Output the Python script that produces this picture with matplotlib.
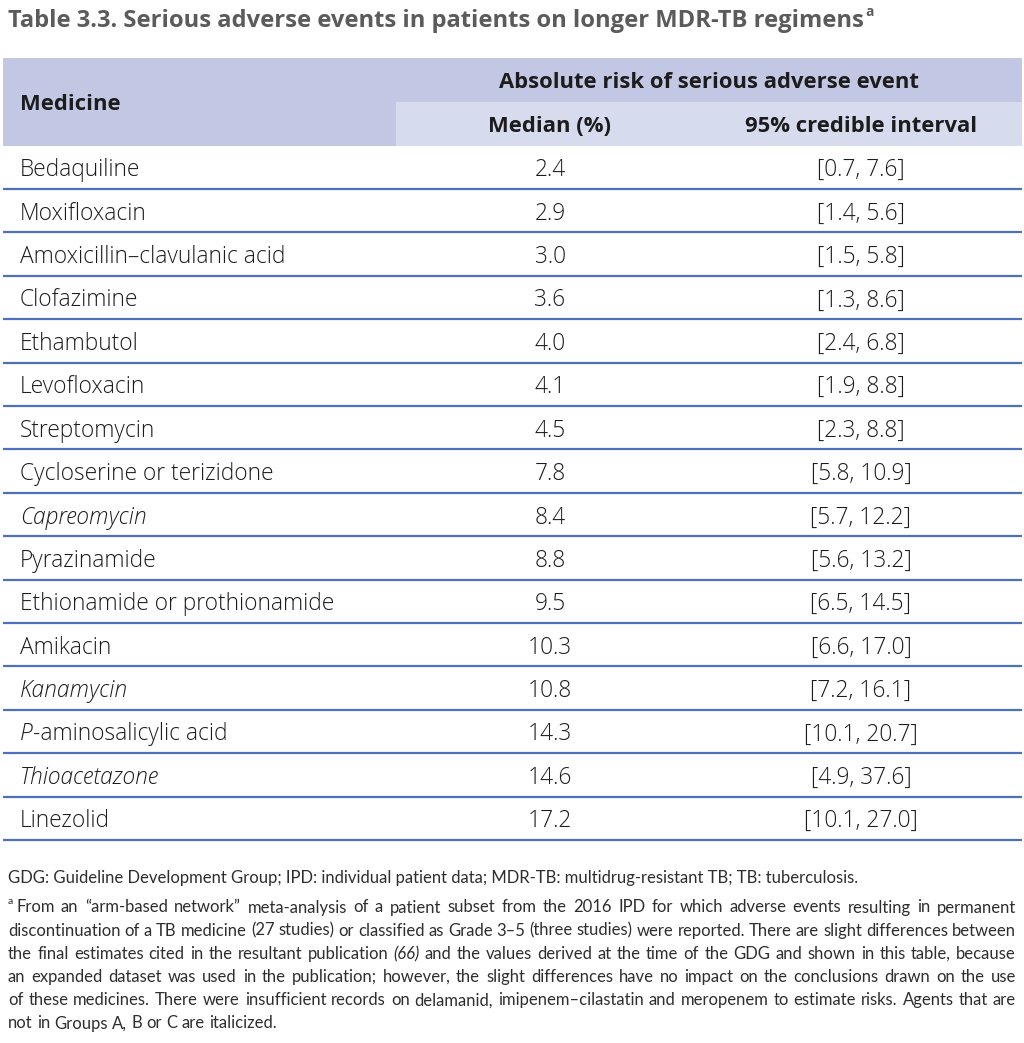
import matplotlib
matplotlib.use("Agg")
import matplotlib.pyplot as plt
from matplotlib.patches import Rectangle

# ----------------------------
# Data
# ----------------------------
medicines = [
    "Bedaquiline", "Moxifloxacin", "Amoxicillin\u2013clavulanic acid", "Clofazimine",
    "Ethambutol", "Levofloxacin", "Streptomycin", "Cycloserine or terizidone",
    "Capreomycin", "Pyrazinamide", "Ethionamide or prothionamide", "Amikacin",
    "Kanamycin", "P-aminosalicylic acid", "Thioacetazone", "Linezolid",
]
italic_names = ["Capreomycin", "Kanamycin", "Thioacetazone"]
medians = [2.4, 2.9, 3.0, 3.6, 4.0, 4.1, 4.5, 7.8, 8.4, 8.8, 9.5, 10.3, 10.8, 14.3, 14.6, 17.2]
ci_low = [0.7, 1.4, 1.5, 1.3, 2.4, 1.9, 2.3, 5.8, 5.7, 5.6, 6.5, 6.6, 7.2, 10.1, 4.9, 10.1]
ci_high = [7.6, 5.6, 5.8, 8.6, 6.8, 8.8, 8.8, 10.9, 12.2, 13.2, 14.5, 17.0, 16.1, 20.7, 37.6, 27.0]

title = "Table 3.3. Serious adverse events in patients on longer MDR-TB regimens"
header_top = "Absolute risk of serious adverse event"
header_cols = ["Medicine", "Median (%)", "95% credible interval"]

abbrev_note = ("GDG: Guideline Development Group; IPD: individual patient data; "
               "MDR-TB: multidrug-resistant TB; TB: tuberculosis.")
footnote_lines = [
    "From an \u201carm-based network\u201d meta-analysis of a patient subset from the 2016 IPD for which adverse events resulting in permanent",
    "discontinuation of a TB medicine (27 studies) or classified as Grade 3\u20135 (three studies) were reported. There are slight differences between",
    "the final estimates cited in the resultant publication (66) and the values derived at the time of the GDG and shown in this table, because",
    "an expanded dataset was used in the publication; however, the slight differences have no impact on the conclusions drawn on the use",
    "of these medicines. There were insufficient records on delamanid, imipenem\u2013cilastatin and meropenem to estimate risks. Agents that are",
    "not in Groups A, B or C are italicized.",
]
italic_words = ["(66)"]

# ----------------------------
# Style
# ----------------------------
FONT = "Open Sans"
FOOT_FONT = "Lato"
DARK_BAND = "#c2c8e3"
LIGHT_BAND = "#d7dbee"
LINE_BLUE = "#4f70bd"
TEXT = "#1c1c1c"
BODY_SIZE = 16.4
HEAD_SIZE = 15.8
VA = "center_baseline"

W, H = 1024, 1043
fig = plt.figure(figsize=(W / 100, H / 100), dpi=100)
ax = fig.add_axes([0, 0, 1, 1])
ax.set_xlim(0, W)
ax.set_ylim(H, 0)
ax.axis("off")
renderer = fig.canvas.get_renderer()


def width_of(t):
    return t.get_window_extent(renderer).width


# title + superscript
t = ax.text(8, 18, title, fontsize=17.1, fontweight="bold", color="#5b5b5b",
            family=FONT, va=VA, ha="left")
ax.text(8 + width_of(t) + 1, 10, "a", fontsize=10, fontweight="bold",
        color="#5b5b5b", family=FONT, va=VA, ha="left")

# header bands
left, right = 3, 1022
col_split = 396
ax.add_patch(Rectangle((left, 58), right - left, 43.5, color=DARK_BAND, lw=0))
ax.add_patch(Rectangle((left, 101.5), col_split - left, 44, color=DARK_BAND, lw=0))
ax.add_patch(Rectangle((col_split, 101.5), right - col_split, 44, color=LIGHT_BAND, lw=0))

med_x = 550
ci_x = 861
ax.text(20, 102, header_cols[0], fontsize=HEAD_SIZE, fontweight="bold", color=TEXT,
        family=FONT, va=VA, ha="left")
ax.text(709, 80, header_top, fontsize=HEAD_SIZE, fontweight="bold", color=TEXT,
        family=FONT, va=VA, ha="center")
ax.text(med_x, 124, header_cols[1], fontsize=HEAD_SIZE, fontweight="bold", color=TEXT,
        family=FONT, va=VA, ha="center")
ax.text(ci_x, 124, header_cols[2], fontsize=HEAD_SIZE, fontweight="bold", color=TEXT,
        family=FONT, va=VA, ha="center")

# body rows
row_h = 43.4
first_sep = 189
for i, name in enumerate(medicines):
    yc = first_sep - row_h / 2 + i * row_h
    if name.startswith("P-"):
        p = ax.text(20, yc, "P", fontsize=BODY_SIZE, style="italic", color=TEXT,
                    family=FONT, fontweight="light", va=VA, ha="left")
        ax.text(20 + width_of(p), yc, name[1:], fontsize=BODY_SIZE, color=TEXT,
                family=FONT, fontweight="light", va=VA, ha="left")
    else:
        ax.text(20, yc, name, fontsize=BODY_SIZE, color=TEXT, family=FONT,
                fontweight="light",
                style="italic" if name in italic_names else "normal",
                va=VA, ha="left")
    ax.text(med_x, yc, f"{medians[i]:.1f}", fontsize=BODY_SIZE, color=TEXT,
            family=FONT, fontweight="light", va=VA, ha="center")
    ax.text(ci_x, yc, f"[{ci_low[i]:.1f}, {ci_high[i]:.1f}]", fontsize=BODY_SIZE,
            color=TEXT, family=FONT, fontweight="light", va=VA, ha="center")
    ysep = first_sep + i * row_h
    ax.plot([left, right], [ysep, ysep], color=LINE_BLUE, lw=1.6,
            solid_capstyle="butt")

# footnotes
FOOT_SIZE = 12.0
FOOT_COLOR = "#2e2e2e"
ax.text(8, 876, abbrev_note, fontsize=FOOT_SIZE, color=FOOT_COLOR,
        family=FOOT_FONT, va=VA, ha="left")


def justify_line(words, x0, x1, y, justify=True):
    items = []
    for w in words:
        st = "italic" if w in italic_words else "normal"
        items.append(ax.text(0, y, w, fontsize=FOOT_SIZE, color=FOOT_COLOR,
                             family=FOOT_FONT, style=st, va=VA, ha="left"))
    widths = [width_of(it) for it in items]
    space = width_of(ax.text(0, 0, "a a", fontsize=FOOT_SIZE, family=FOOT_FONT, alpha=0)) - \
        width_of(ax.text(0, 0, "aa", fontsize=FOOT_SIZE, family=FOOT_FONT, alpha=0))
    if justify and len(words) > 1:
        gap = (x1 - x0 - sum(widths)) / (len(words) - 1)
    else:
        gap = space
    x = x0
    for it, wd in zip(items, widths):
        it.set_x(x)
        x += wd + gap


foot_y = [906, 929.2, 952.4, 975.6, 998.8, 1022]
ax.text(8, 901, "a", fontsize=7.5, color=FOOT_COLOR, family=FOOT_FONT,
        va=VA, ha="left")
for j, line in enumerate(footnote_lines):
    x0 = 16 if j == 0 else 8
    justify_line(line.split(" "), x0, 1016, foot_y[j],
                 justify=j < len(footnote_lines) - 1)

fig.savefig("out.png", dpi=100)
